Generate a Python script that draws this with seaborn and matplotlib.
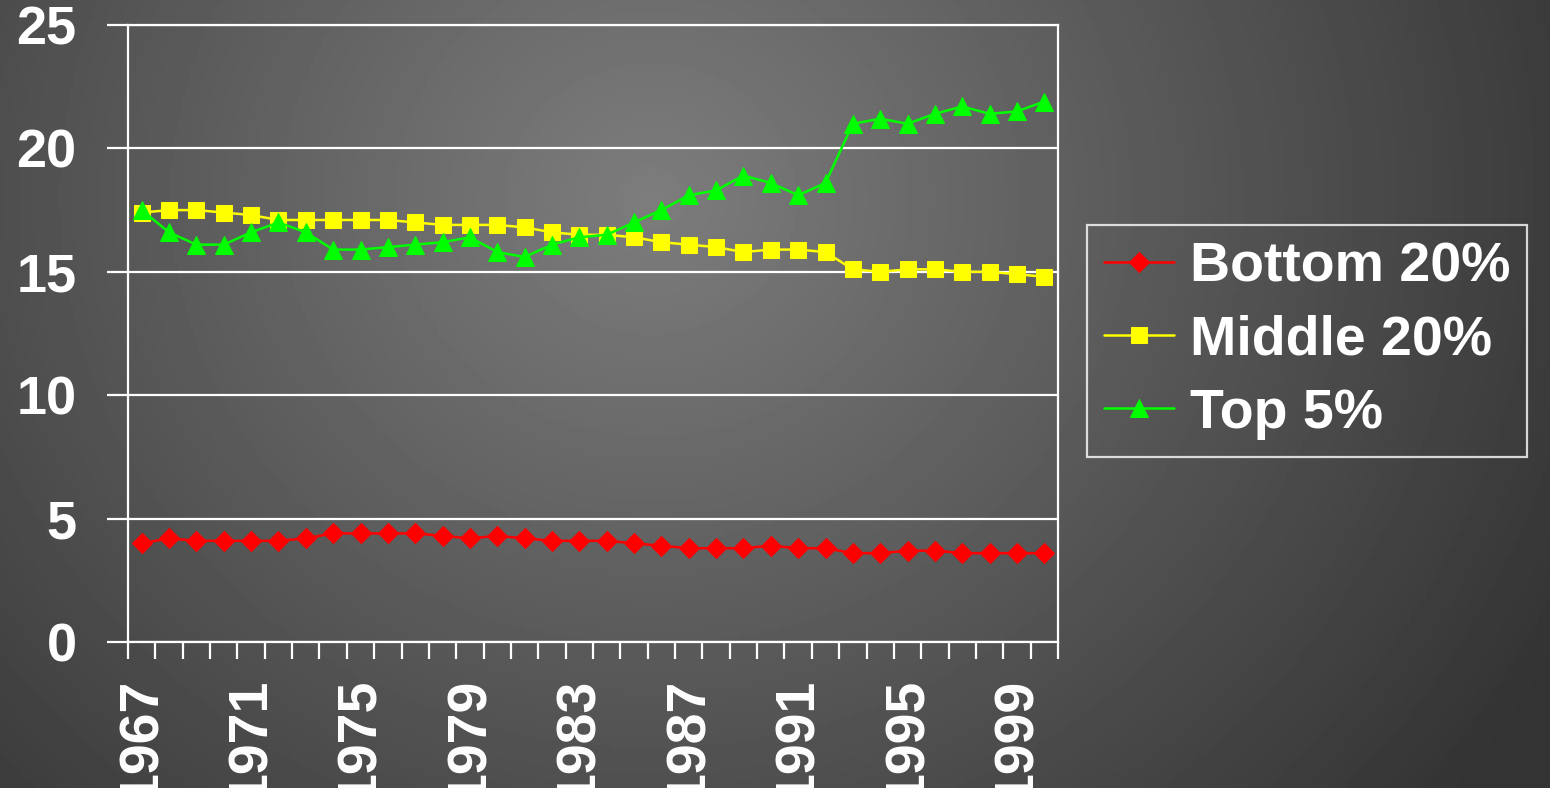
import numpy as np
import pandas as pd
import seaborn as sns
import matplotlib.pyplot as plt

# Data (income share, %)
years = list(range(1967, 2001))
bottom_20 = [4.0, 4.2, 4.1, 4.1, 4.1, 4.1, 4.2, 4.4, 4.4, 4.4, 4.4, 4.3, 4.2, 4.3, 4.2, 4.1, 4.1,
             4.1, 4.0, 3.9, 3.8, 3.8, 3.8, 3.9, 3.8, 3.8, 3.6, 3.6, 3.7, 3.7, 3.6, 3.6, 3.6, 3.6]
middle_20 = [17.4, 17.5, 17.5, 17.4, 17.3, 17.1, 17.1, 17.1, 17.1, 17.1, 17.0, 16.9, 16.9, 16.9, 16.8, 16.6, 16.5,
             16.5, 16.4, 16.2, 16.1, 16.0, 15.8, 15.9, 15.9, 15.8, 15.1, 15.0, 15.1, 15.1, 15.0, 15.0, 14.9, 14.8]
top_5 = [17.5, 16.6, 16.1, 16.1, 16.6, 17.0, 16.6, 15.9, 15.9, 16.0, 16.1, 16.2, 16.4, 15.8, 15.6, 16.1, 16.4,
         16.5, 17.0, 17.5, 18.1, 18.3, 18.9, 18.6, 18.1, 18.6, 21.0, 21.2, 21.0, 21.4, 21.7, 21.4, 21.5, 21.9]
series_names = ["Bottom 20%", "Middle 20%", "Top 5%"]
label_years = list(range(1967, 2000, 4))
y_ticks = [0, 5, 10, 15, 20, 25]

sns.set_style("ticks")
plt.rcParams['font.family'] = ['Liberation Sans', 'DejaVu Sans']
plt.rcParams['font.weight'] = 'bold'

fig = plt.figure(figsize=(15.5, 7.88), dpi=100)

# Radial gray background
bg = fig.add_axes([0, 0, 1, 1], zorder=-10)
gx, gy = np.meshgrid(np.linspace(0, 1, 400), np.linspace(0, 1, 200))
r = np.sqrt(((gx - 0.42) / 0.6) ** 2 + ((gy - 0.25) / 1.1) ** 2)
shade = np.clip(0.49 - 0.26 * r, 0.2, 0.6)
bg.imshow(shade, cmap='gray', vmin=0, vmax=1, aspect='auto', extent=[0, 1, 1, 0])
bg.set_axis_off()

ax = fig.add_axes([128 / 1550, 1 - 642 / 788, 930 / 1550, 617 / 788])
ax.set_facecolor('none')

df = pd.DataFrame({"Year": years, series_names[0]: bottom_20,
                   series_names[1]: middle_20, series_names[2]: top_5})
styles = [("#ff0000", "D", 10), ("#ffff00", "s", 11), ("#00ff00", "^", 13)]
for name, (col, mk, ms) in zip(series_names, styles):
    sns.lineplot(data=df, x="Year", y=name, ax=ax, color=col, marker=mk,
                 markersize=ms, markeredgecolor=col, linewidth=1.8, label=name, zorder=3)

ax.set_xlim(1966.5, 2000.5)
ax.set_ylim(0, 25)
ax.set_yticks(y_ticks)
ax.grid(axis='y', color='white', linewidth=1.6)
ax.set_xticks(label_years)
ax.set_xticks(np.arange(1966.5, 2001, 1), minor=True)
ax.tick_params(axis='x', which='major', length=0, pad=26, labelrotation=90,
               labelsize=40, labelcolor='white')
ax.tick_params(axis='x', which='minor', length=12, width=1.6, color='white')
ax.tick_params(axis='y', length=15, width=1.6, color='white', pad=22,
               labelsize=39, labelcolor='white')
for lab in ax.get_xticklabels() + ax.get_yticklabels():
    lab.set_fontweight('bold')
for sp in ax.spines.values():
    sp.set_color('white')
    sp.set_linewidth(1.6)
ax.set_xlabel("")
ax.set_ylabel("")

leg = ax.legend(loc='upper left', bbox_to_anchor=(1087 / 1550, 1 - 225 / 788),
                bbox_transform=fig.transFigure, borderaxespad=0, frameon=True,
                fancybox=False, prop={'size': 40, 'weight': 'bold'},
                handlelength=1.26, handletextpad=0.29, labelspacing=0.38,
                borderpad=0.3)
leg.get_frame().set_facecolor('none')
leg.get_frame().set_edgecolor('white')
leg.get_frame().set_linewidth(1.6)
for t in leg.get_texts():
    t.set_color('white')

fig.savefig("out.png", dpi=100)
